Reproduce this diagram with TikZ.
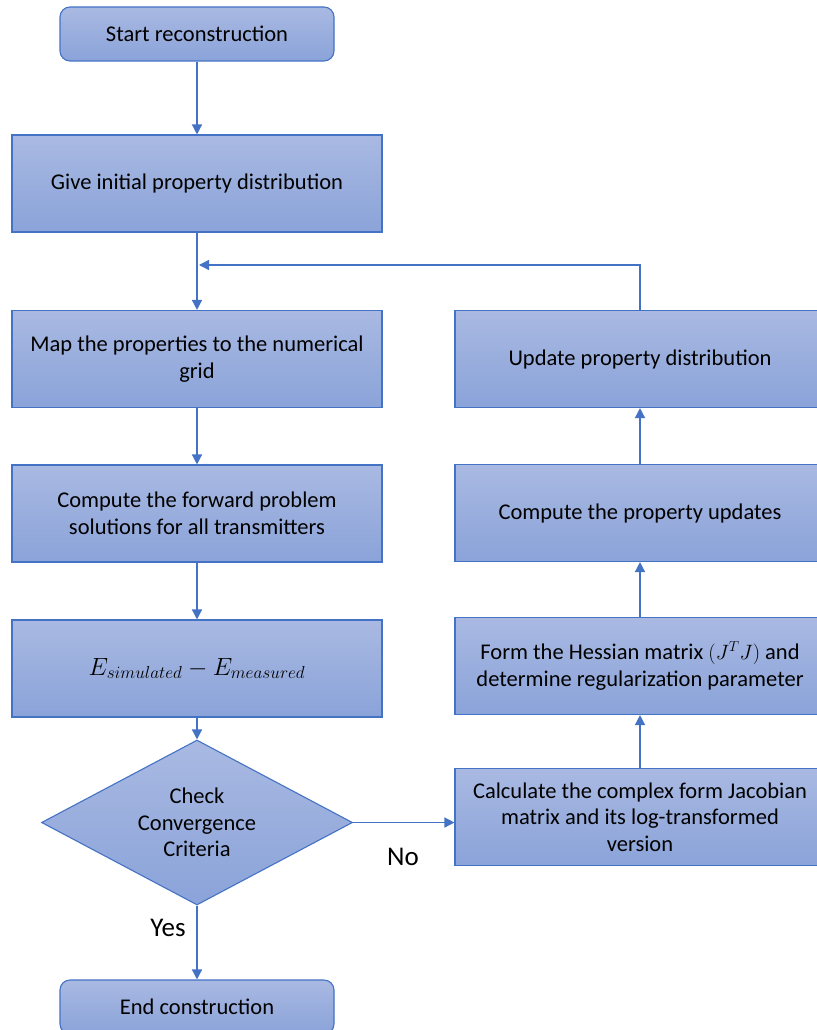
\documentclass[tikz,border=0pt]{standalone}
\usepackage{fontspec}
\setmainfont{Carlito}
\usetikzlibrary{arrows.meta,shapes.geometric}
\definecolor{boxline}{HTML}{4472C4}
\definecolor{boxtop}{HTML}{A9B9E2}
\definecolor{boxbot}{HTML}{8AA3D9}

\begin{document}
\begin{tikzpicture}[x=1pt,y=-1pt,
        every node/.style = {align=center, font=\fontsize{22.5}{26.5}\selectfont},
        block/.style = {shape=rectangle, draw=boxline, line width=1.1pt,
                        minimum width=370pt, minimum height=97pt,
                        top color=boxtop, bottom color=boxbot},
        term/.style = {block, rounded corners=10pt,
                       minimum width=274pt, minimum height=54pt},
        decide/.style = {shape=diamond, draw=boxline, line width=1.1pt, aspect=1.88,
                         inner sep=0pt, minimum width=311pt, minimum height=165pt,
                         top color=boxtop, bottom color=boxbot},
        link/.style = {draw=boxline, line width=1.4pt, -{Triangle[length=10pt,width=10pt]}},
        answer/.style = {font=\fontsize{27}{30}\selectfont}]
    \useasboundingbox (0,0) rectangle (816,1030);
        \node[term] (start) at (197,34) {Start reconstruction};
        \node[block] (init) at (197,183.5) {Give initial property distribution};
        \node[block] (map) at (197,359) {Map the properties to the numerical\\grid};
        \node[block] (fwd) at (197,513.5) {Compute the forward problem\\solutions for all transmitters};
        \node[block, font=\fontsize{24.5}{28}\selectfont] (diff) at (197,668.5) {$E_{simulated}-E_{measured}$};
        \node[decide] (check) at (197,822.5) {Check\\Convergence\\Criteria};
        \node[term] (stop) at (197,1007) {End construction};
        \node[block] (jac) at (640,817) {Calculate the complex form Jacobian\\matrix and its log-transformed\\version};
        \node[block] (hess) at (640,666) {Form the Hessian matrix $(J^TJ)$ and\\determine regularization parameter};
        \node[block] (upd) at (640,513) {Compute the property updates};
        \node[block] (prop) at (640,359) {Update property distribution};
        \node[answer] (yes) at (168,928) {Yes};
        \node[answer] (no) at (403,857) {No};
        \coordinate (loop) at (640,265);
        \coordinate (back) at (199,265);

        \draw[link] (start) -- (init);
        \draw[link] (init) -- (map);
        \draw[link] (map) -- (fwd);
        \draw[link] (fwd) -- (diff);
        \draw[link] (diff) -- (check);
        \draw[link] (check) -- (stop);
        \draw[link] (check.east) -- (check.east -| jac.west);
        \draw[link] (jac) -- (hess);
        \draw[link] (hess) -- (upd);
        \draw[link] (upd) -- (prop);
        \draw[link] (prop.north) -- (loop) -- (back);
    \end{tikzpicture}
\end{document}
